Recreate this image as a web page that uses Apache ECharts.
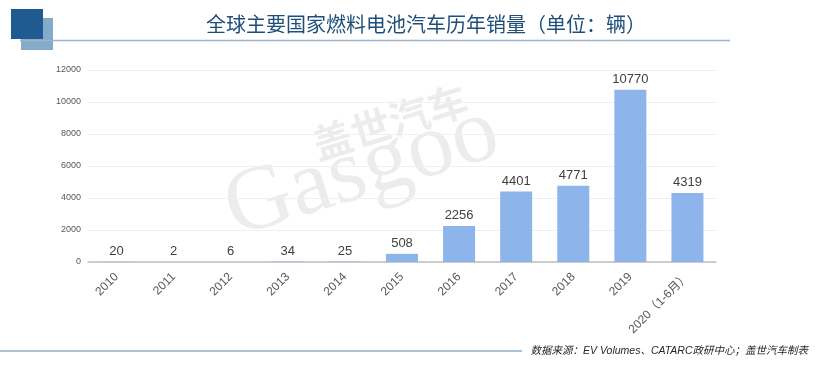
<!DOCTYPE html>
<html><head><meta charset="utf-8">
<script src="https://cdn.jsdelivr.net/npm/echarts@6/dist/echarts.min.js"></script>
<style>html,body{margin:0;padding:0;background:#fff}#c{width:820px;height:376px}</style>
</head><body><div id="c"></div>
<script>
const categories = ['2010','2011','2012','2013','2014','2015','2016','2017','2018','2019','2020（1-6月）'];
const sales = [20, 2, 6, 34, 25, 508, 2256, 4401, 4771, 10770, 4319];
const yTicks = [0, 2000, 4000, 6000, 8000, 10000, 12000];
const titleText = '全球主要国家燃料电池汽车历年销量（单位：辆）';
const sourceText = '数据来源：EV Volumes、CATARC政研中心；盖世汽车制表';

const chart = echarts.init(document.getElementById('c'));
chart.setOption({
  animation: false,
  backgroundColor: '#fff',
  grid: { left: 88, right: 104, top: 70, bottom: 114 },
  xAxis: {
    type: 'category', data: categories,
    axisLine: { lineStyle: { color: '#bfbfbf', width: 1.5 } },
    axisTick: { show: false },
    axisLabel: { rotate: 45, color: '#595959', fontSize: 12, fontFamily: 'Liberation Sans, Noto Sans CJK SC', interval: 0, margin: 13 }
  },
  yAxis: {
    type: 'value', min: yTicks[0], max: yTicks[yTicks.length-1], interval: 2000,
    axisLine: { show: false }, axisTick: { show: false },
    axisLabel: { color: '#595959', fontSize: 9, fontFamily: 'Liberation Sans', margin: 7, formatter: v => String(v) },
    splitLine: { lineStyle: { color: '#f0f0f0' } }
  },
  series: [{
    type: 'bar', data: sales, barWidth: 32,
    itemStyle: { color: '#8db4eb' },
    label: { show: true, position: 'top', color: '#404040', fontSize: 13, fontFamily: 'Liberation Sans', distance: 4 }
  }],
  graphic: [
    { type: 'rect', shape: { x: 21, y: 18, width: 32, height: 32 }, style: { fill: '#86abc9' }, z: 1 },
    { type: 'rect', shape: { x: 11, y: 9, width: 32, height: 30 }, style: { fill: '#1f5a91' }, z: 2 },
    { type: 'line', shape: { x1: 20, y1: 40.5, x2: 730, y2: 40.5 }, style: { stroke: '#9ab5cc', lineWidth: 1.5 }, z: 3 },
    { type: 'text', x: 426, y: 24, style: { text: titleText, fill: '#1f4e79', fontSize: 20, fontFamily: 'Noto Sans CJK SC', align: 'center', verticalAlign: 'middle' }, z: 4 },
    { type: 'line', shape: { x1: 0, y1: 351, x2: 522, y2: 351 }, style: { stroke: '#a9c4d8', lineWidth: 2 } },
    { type: 'text', x: 808, y: 351, style: { text: sourceText, fill: '#262626', fontSize: 10.5, fontStyle: 'italic', fontFamily: 'Liberation Sans, Noto Sans CJK SC', align: 'right', verticalAlign: 'middle' } },
    { type: 'text', x: 362, y: 172, rotation: 0.3, style: { text: 'Gasgoo', fill: 'rgba(0,0,0,0.075)', fontSize: 92, fontFamily: 'Liberation Serif', align: 'center', verticalAlign: 'middle' }, z: 0 },
    { type: 'text', x: 390, y: 122, rotation: 0.3, style: { text: '盖世汽车', fill: 'rgba(0,0,0,0.075)', fontSize: 40, fontWeight: 'bold', fontFamily: 'Noto Sans CJK SC', align: 'center', verticalAlign: 'middle' }, z: 0 }
  ]
});
</script></body></html>
